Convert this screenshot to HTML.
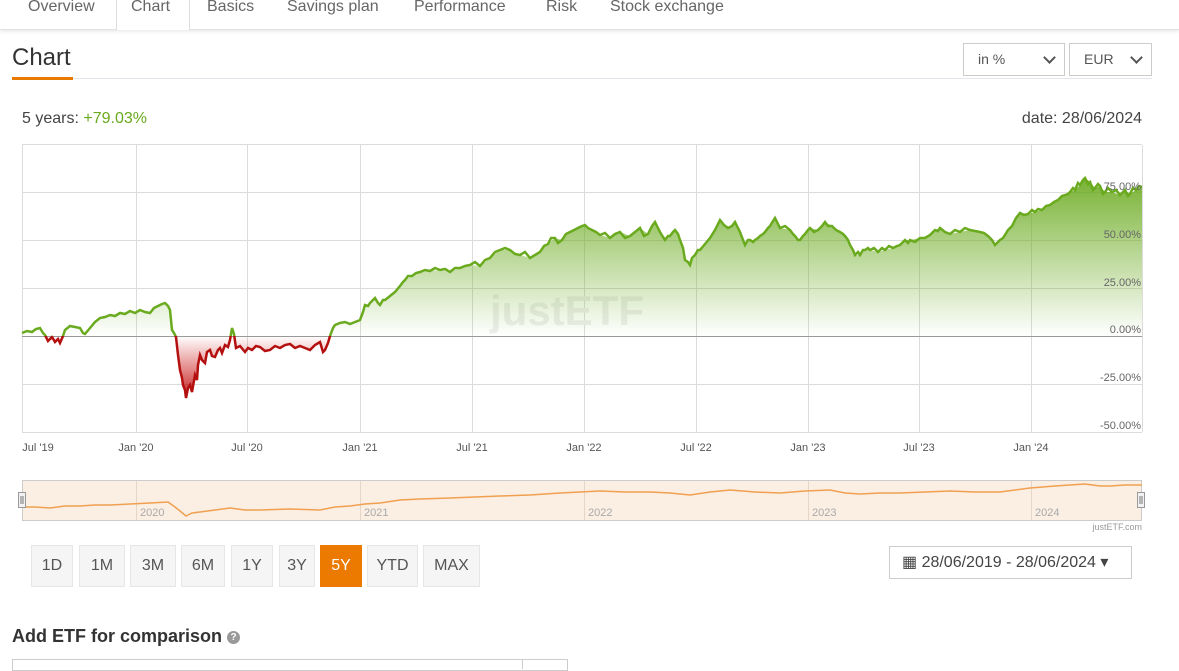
<!DOCTYPE html>
<html><head><meta charset="utf-8"><style>
body{margin:0;width:1179px;height:663px;overflow:hidden;background:#fff;font-family:"Liberation Sans",sans-serif;color:#444;position:relative}
.a{position:absolute}
.tab{position:absolute;top:-2px;font-size:16px;color:#666}
.btn{position:absolute;top:545px;height:42px;background:#f5f5f5;border:1px solid #e6e6e6;box-sizing:border-box;font-size:16px;color:#555;text-align:center;line-height:40px}
.sel{position:absolute;top:43px;height:33px;border:1px solid #ccc;box-sizing:border-box;font-size:14px;color:#555;line-height:31px;padding-left:14px}
.chev{position:absolute;right:10px;top:9px;width:7px;height:7px;border-right:2px solid #555;border-bottom:2px solid #555;transform:rotate(45deg)}
</style></head><body>
<div class="a" style="left:0;top:0;width:1179px;height:29px;border-bottom:1px solid #e2e2e2;box-shadow:0 2px 3px rgba(0,0,0,.08)"></div>
<div class="a" style="left:116px;top:0;width:72px;height:30px;border-left:1px solid #ddd;border-right:1px solid #ddd;background:#fff"></div>
<div class="tab" style="left:28px">Overview</div><div class="tab" style="left:131px">Chart</div><div class="tab" style="left:207px">Basics</div><div class="tab" style="left:287px">Savings plan</div><div class="tab" style="left:414px">Performance</div><div class="tab" style="left:546px">Risk</div><div class="tab" style="left:610px">Stock exchange</div>
<div class="a" style="left:12px;top:44px;font-size:24px;color:#333">Chart</div>
<div class="a" style="left:12px;top:78px;width:1140px;height:1px;background:#e4e4ea"></div>
<div class="a" style="left:12px;top:77px;width:61px;height:3px;background:#e97a00"></div>
<div class="sel" style="left:963px;width:102px">in %<div class="chev"></div></div>
<div class="sel" style="left:1069px;width:83px">EUR<div class="chev"></div></div>
<div class="a" style="left:22px;top:110px;font-size:16px;color:#444">5 years: <span style="color:#6aaa1e">+79.03%</span></div>
<div class="a" style="right:37px;top:110px;font-size:16px;color:#444">date: 28/06/2024</div>
<svg class="a" style="left:0;top:0" width="1179" height="663">
<defs>
<linearGradient id="g" x1="0" y1="170" x2="0" y2="336" gradientUnits="userSpaceOnUse"><stop offset="0" stop-color="#6aaa1e" stop-opacity=".95"/><stop offset="1" stop-color="#6aaa1e" stop-opacity="0"/></linearGradient>
<linearGradient id="r" x1="0" y1="336" x2="0" y2="400" gradientUnits="userSpaceOnUse"><stop offset="0" stop-color="#c00" stop-opacity="0"/><stop offset="1" stop-color="#b00" stop-opacity=".9"/></linearGradient>
<clipPath id="up"><rect x="0" y="0" width="1179" height="336"/></clipPath>
<clipPath id="dn"><rect x="0" y="336" width="1179" height="200"/></clipPath>
<path id="ln" d="M22,333 L27,331 L32,332 L36,329 L40,328 L43,333 L45,335 L48,341 L52,337 L55,342 L58,339 L60,343 L63,336 L65,330 L70,326 L75,327 L80,328 L83,333 L85,334 L90,328 L95,322 L100,318 L105,317 L110,315 L115,316 L120,313 L125,314 L130,311 L135,313 L140,310 L145,312 L150,313 L154,308 L158,306 L162,304 L165,303 L168,306 L170,310 L172,330 L174,333 L176,337 L178,355 L180,370 L182,378 L183,385 L185,390 L186,398 L188,388 L190,385 L192,392 L195,375 L197,380 L198,365 L200,355 L202,360 L205,363 L207,352 L210,350 L212,356 L215,357 L218,350 L220,348 L222,353 L225,345 L228,347 L230,340 L232,328 L234,334 L236,348 L240,346 L245,352 L248,348 L252,350 L256,346 L260,347 L265,351 L270,350 L275,346 L280,348 L285,345 L290,344 L295,348 L300,346 L305,348 L310,350 L315,345 L320,342 L323,352 L325,350 L328,343 L330,336 L333,328 L335,325 L340,323 L345,322 L350,324 L355,322 L360,320 L363,312 L365,305 L368,306 L370,303 L373,300 L375,298 L378,303 L380,305 L383,300 L385,300 L390,296 L395,292 L400,286 L403,282 L405,280 L408,276 L412,276 L416,273 L420,272 L425,270 L430,271 L435,268 L440,270 L445,269 L450,272 L455,268 L460,268 L465,266 L470,265 L475,262 L480,266 L485,260 L490,258 L495,252 L500,250 L505,248 L510,250 L515,254 L520,255 L525,252 L530,258 L535,255 L540,252 L544,246 L548,244 L551,238 L555,238 L558,243 L562,240 L566,234 L570,232 L574,230 L578,228 L582,226 L585,225 L588,228 L592,230 L596,232 L600,235 L605,233 L610,238 L615,234 L620,232 L625,238 L630,236 L635,232 L640,228 L644,236 L648,234 L652,226 L655,222 L658,228 L660,232 L663,237 L665,240 L668,236 L670,236 L673,232 L675,230 L678,234 L680,240 L683,248 L685,260 L688,262 L690,265 L692,258 L695,255 L698,250 L700,250 L705,244 L710,238 L715,230 L720,220 L724,225 L728,228 L732,226 L735,222 L738,228 L740,232 L743,240 L745,245 L748,240 L750,240 L753,242 L755,240 L758,238 L760,236 L763,234 L765,232 L768,228 L770,226 L773,221 L775,218 L778,224 L780,228 L785,226 L790,230 L793,234 L795,236 L798,240 L800,240 L803,236 L805,234 L808,230 L810,228 L814,232 L818,230 L822,226 L825,222 L828,226 L832,226 L836,230 L840,232 L843,234 L845,236 L848,240 L850,245 L853,250 L855,255 L858,252 L860,255 L863,250 L865,250 L868,248 L870,250 L874,248 L878,252 L882,248 L885,250 L889,246 L893,248 L897,246 L900,245 L903,242 L905,240 L908,243 L910,240 L915,242 L920,238 L925,238 L930,235 L933,232 L935,230 L938,231 L940,228 L945,232 L950,234 L955,230 L960,232 L965,228 L970,230 L975,231 L980,232 L984,233 L988,236 L992,240 L995,245 L998,242 L1000,240 L1003,238 L1005,235 L1008,230 L1012,226 L1016,218 L1020,213 L1024,215 L1028,214 L1032,210 L1035,212 L1038,209 L1042,210 L1046,206 L1050,205 L1054,202 L1058,200 L1062,196 L1065,195 L1068,194 L1070,192 L1073,188 L1075,190 L1078,183 L1080,185 L1083,180 L1085,178 L1088,184 L1090,182 L1093,190 L1095,188 L1098,184 L1100,186 L1103,194 L1105,192 L1108,188 L1112,192 L1116,190 L1120,195 L1123,192 L1125,190 L1128,196 L1130,194 L1133,188 L1136,190 L1139,186 L1142,187"/>
<path id="area" d="M22,336 L22,333 L27,331 L32,332 L36,329 L40,328 L43,333 L45,335 L48,341 L52,337 L55,342 L58,339 L60,343 L63,336 L65,330 L70,326 L75,327 L80,328 L83,333 L85,334 L90,328 L95,322 L100,318 L105,317 L110,315 L115,316 L120,313 L125,314 L130,311 L135,313 L140,310 L145,312 L150,313 L154,308 L158,306 L162,304 L165,303 L168,306 L170,310 L172,330 L174,333 L176,337 L178,355 L180,370 L182,378 L183,385 L185,390 L186,398 L188,388 L190,385 L192,392 L195,375 L197,380 L198,365 L200,355 L202,360 L205,363 L207,352 L210,350 L212,356 L215,357 L218,350 L220,348 L222,353 L225,345 L228,347 L230,340 L232,328 L234,334 L236,348 L240,346 L245,352 L248,348 L252,350 L256,346 L260,347 L265,351 L270,350 L275,346 L280,348 L285,345 L290,344 L295,348 L300,346 L305,348 L310,350 L315,345 L320,342 L323,352 L325,350 L328,343 L330,336 L333,328 L335,325 L340,323 L345,322 L350,324 L355,322 L360,320 L363,312 L365,305 L370,303 L375,298 L380,305 L385,300 L395,292 L405,280 L412,276 L420,272 L430,271 L440,270 L450,272 L460,268 L470,265 L480,266 L490,258 L500,250 L510,250 L520,255 L530,258 L540,252 L548,244 L555,238 L562,240 L570,232 L578,228 L585,225 L592,230 L600,235 L610,238 L620,232 L630,236 L640,228 L648,234 L655,222 L660,232 L665,240 L670,236 L675,230 L680,240 L685,260 L690,265 L695,255 L700,250 L710,238 L720,220 L728,228 L735,222 L740,232 L745,245 L750,240 L755,240 L760,236 L765,232 L770,226 L775,218 L780,228 L790,230 L795,236 L800,240 L805,234 L810,228 L818,230 L825,222 L832,226 L840,232 L845,236 L850,245 L855,255 L860,255 L865,250 L870,250 L878,252 L885,250 L893,248 L900,245 L905,240 L910,240 L920,238 L930,235 L935,230 L940,228 L950,234 L960,232 L970,230 L980,232 L988,236 L995,245 L1000,240 L1005,235 L1012,226 L1020,213 L1028,214 L1035,212 L1042,210 L1050,205 L1058,200 L1065,195 L1070,192 L1075,190 L1080,185 L1085,178 L1090,182 L1095,188 L1100,186 L1105,192 L1112,192 L1120,195 L1125,190 L1130,194 L1136,190 L1142,187 L1142,336 Z"/>
</defs>
<g stroke="#dcdcdc" stroke-width="1">
<line x1="22" y1="144.5" x2="1142" y2="144.5"/><line x1="22" y1="192.5" x2="1142" y2="192.5"/><line x1="22" y1="240.5" x2="1142" y2="240.5"/><line x1="22" y1="288.5" x2="1142" y2="288.5"/><line x1="22" y1="384.5" x2="1142" y2="384.5"/><line x1="22" y1="432.5" x2="1142" y2="432.5"/>
<line x1="136.5" y1="145" x2="136.5" y2="432"/><line x1="247.5" y1="145" x2="247.5" y2="432"/><line x1="360.5" y1="145" x2="360.5" y2="432"/><line x1="472.5" y1="145" x2="472.5" y2="432"/><line x1="584.5" y1="145" x2="584.5" y2="432"/><line x1="696.5" y1="145" x2="696.5" y2="432"/><line x1="808.5" y1="145" x2="808.5" y2="432"/><line x1="919.5" y1="145" x2="919.5" y2="432"/><line x1="1031.5" y1="145" x2="1031.5" y2="432"/>
<line x1="22.5" y1="145" x2="22.5" y2="432"/><line x1="1142.5" y1="145" x2="1142.5" y2="432"/>
</g>
<text x="490" y="325" font-size="42" font-weight="bold" fill="#eee" font-family="Liberation Sans">justETF</text>
<g clip-path="url(#up)"><use href="#area" fill="url(#g)"/></g>
<g clip-path="url(#dn)"><use href="#area" fill="url(#r)"/></g>
<line x1="22" y1="336.5" x2="1142" y2="336.5" stroke="#999" stroke-width="1"/>
<g clip-path="url(#up)"><use href="#ln" fill="none" stroke="#6aaa1e" stroke-width="2.5"/></g>
<g clip-path="url(#dn)"><use href="#ln" fill="none" stroke="#b51010" stroke-width="2.5"/></g>
<g font-size="11" fill="#666" text-anchor="end" font-family="Liberation Sans">
<text x="1141" y="190">75.00%</text><text x="1141" y="238">50.00%</text><text x="1141" y="286">25.00%</text><text x="1141" y="333">0.00%</text><text x="1141" y="381">-25.00%</text><text x="1141" y="429">-50.00%</text>
</g>
<g font-size="11" fill="#555" text-anchor="middle" font-family="Liberation Sans">
<text x="38" y="451">Jul '19</text><text x="136" y="451">Jan '20</text><text x="247" y="451">Jul '20</text><text x="360" y="451">Jan '21</text><text x="472" y="451">Jul '21</text><text x="584" y="451">Jan '22</text><text x="696" y="451">Jul '22</text><text x="808" y="451">Jan '23</text><text x="919" y="451">Jul '23</text><text x="1031" y="451">Jan '24</text>
</g>
<rect x="22.5" y="480.5" width="1119" height="40" fill="#fbeee3" stroke="#ccc"/>
<g stroke="#e6d6c8"><line x1="136.5" y1="481" x2="136.5" y2="520"/><line x1="360.5" y1="481" x2="360.5" y2="520"/><line x1="584.5" y1="481" x2="584.5" y2="520"/><line x1="808.5" y1="481" x2="808.5" y2="520"/><line x1="1031.5" y1="481" x2="1031.5" y2="520"/></g>
<g font-size="11" fill="#aaa" font-family="Liberation Sans"><text x="140" y="516">2020</text><text x="364" y="516">2021</text><text x="588" y="516">2022</text><text x="812" y="516">2023</text><text x="1035" y="516">2024</text></g>
<path d="M22,507 L35,507 L50,508 L65,506 L80,506 L95,505 L110,505 L130,504 L150,503 L168,502 L175,507 L180,511 L186,516 L192,513 L200,512 L215,510 L230,508 L245,510 L260,510 L290,509 L320,510 L335,507 L350,506 L365,504 L380,503 L400,500 L420,499 L450,498 L475,497 L500,496 L530,495 L560,493 L580,492 L600,491 L625,492 L650,492 L670,493 L690,495 L710,492 L730,490 L755,492 L780,493 L805,491 L830,490 L845,493 L860,494 L880,493 L900,493 L925,492 L950,491 L975,492 L1000,492 L1015,490 L1030,488 L1055,486 L1085,484 L1100,486 L1110,486 L1125,485 L1142,485" fill="none" stroke="#f0a050" stroke-width="1.5"/>
<g fill="#f2f2f2" stroke="#999"><rect x="18.5" y="492.5" width="7" height="15"/><rect x="1137.5" y="492.5" width="7" height="15"/></g>
<g stroke="#777"><line x1="21" y1="496" x2="21" y2="504"/><line x1="23" y1="496" x2="23" y2="504"/><line x1="1140" y1="496" x2="1140" y2="504"/><line x1="1142" y1="496" x2="1142" y2="504"/></g>
<text x="1142" y="530" font-size="9" fill="#999" text-anchor="end" font-family="Liberation Sans">justETF.com</text>
</svg>
<div class="btn" style="left:31px;width:42px">1D</div><div class="btn" style="left:79px;width:46px">1M</div><div class="btn" style="left:130px;width:46px">3M</div><div class="btn" style="left:181px;width:44px">6M</div><div class="btn" style="left:231px;width:42px">1Y</div><div class="btn" style="left:279px;width:36px">3Y</div><div class="btn" style="left:320px;width:42px;background:#ec7a00;border-color:#ec7a00;color:#fff">5Y</div><div class="btn" style="left:367px;width:51px">YTD</div><div class="btn" style="left:423px;width:57px">MAX</div>
<div class="a" style="left:889px;top:546px;width:243px;height:33px;border:1px solid #ccc;box-sizing:border-box;font-size:16px;color:#444;line-height:31px;padding-left:12px">▦ 28/06/2019 - 28/06/2024 ▾</div>
<div class="a" style="left:12px;top:626px;font-size:18px;font-weight:bold;color:#333">Add ETF for comparison <span style="display:inline-block;width:13px;height:13px;border-radius:50%;background:#999;color:#fff;font-size:10px;text-align:center;line-height:13px;vertical-align:middle">?</span></div>
<div class="a" style="left:12px;top:659px;width:554px;height:10px;border:1px solid #ccc"></div>
<div class="a" style="left:522px;top:659px;width:1px;height:10px;background:#ccc"></div>
</body></html>
